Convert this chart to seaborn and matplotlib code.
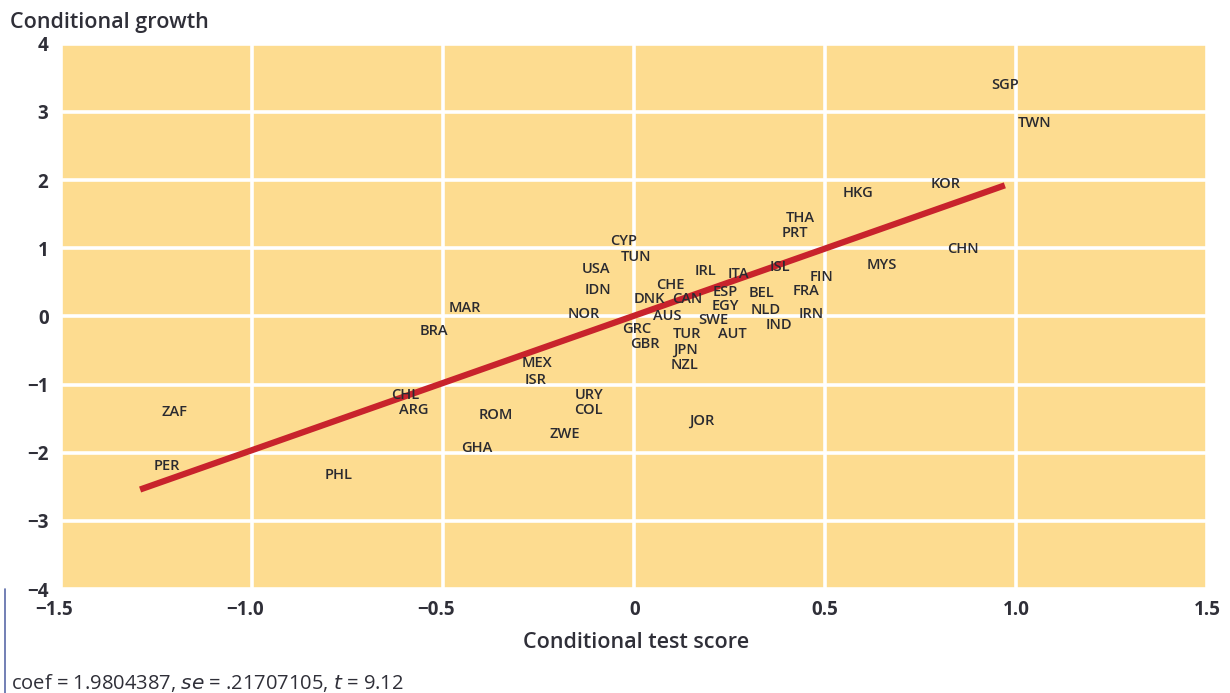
import numpy as np
import pandas as pd
import seaborn as sns
import matplotlib.pyplot as plt
import matplotlib.transforms as mtransforms
from matplotlib.lines import Line2D

# country codes and their (conditional test score, conditional growth)
countries = ['SGP', 'TWN', 'KOR', 'HKG', 'CHN', 'THA', 'PRT', 'MYS', 'ISL', 'FIN',
             'FRA', 'IRN', 'BEL', 'NLD', 'IND', 'ITA', 'IRL', 'ESP', 'EGY', 'SWE',
             'AUT', 'CHE', 'DNK', 'CAN', 'AUS', 'GRC', 'GBR', 'TUR', 'JPN', 'NZL',
             'CYP', 'TUN', 'USA', 'IDN', 'NOR', 'MAR', 'BRA', 'MEX', 'ISR', 'URY',
             'COL', 'ZWE', 'ROM', 'GHA', 'CHL', 'ARG', 'JOR', 'PHL', 'ZAF', 'PER']
test_score = [0.900, 0.970, 0.742, 0.511, 0.784, 0.362, 0.351, 0.574, 0.320, 0.425,
              0.380, 0.396, 0.265, 0.270, 0.310, 0.210, 0.123, 0.171, 0.168, 0.134,
              0.184, 0.024, -0.037, 0.066, 0.016, -0.066, -0.045, 0.066, 0.068, 0.060,
              -0.097, -0.071, -0.173, -0.163, -0.210, -0.519, -0.595, -0.330, -0.320, -0.191,
              -0.191, -0.257, -0.441, -0.488, -0.671, -0.650, 0.110, -0.844, -1.272, -1.293]
growth = [3.40, 2.84, 1.94, 1.81, 0.99, 1.44, 1.22, 0.76, 0.72, 0.57,
          0.37, 0.03, 0.34, 0.10, -0.12, 0.62, 0.66, 0.35, 0.15, -0.06,
          -0.26, 0.46, 0.26, 0.25, 0.00, -0.19, -0.41, -0.26, -0.49, -0.71,
          1.10, 0.87, 0.69, 0.38, 0.03, 0.12, -0.21, -0.69, -0.93, -1.15,
          -1.37, -1.72, -1.44, -1.93, -1.16, -1.37, -1.54, -2.32, -1.41, -2.19]

x_ticks = [-1.5, -1.0, -0.5, 0, 0.5, 1.0, 1.5]
x_labels = ['\u22121.5', '\u22121.0', '\u22120.5', '0', '0.5', '1.0', '1.5']
y_ticks = [-4, -3, -2, -1, 0, 1, 2, 3, 4]
y_labels = ['\u22124', '\u22123', '\u22122', '\u22121', '0', '1', '2', '3', '4']

df = pd.DataFrame({'code': countries, 'score': test_score, 'growth': growth})

sns.set_theme(style='darkgrid', rc={
    'axes.facecolor': '#FDDC90',
    'grid.color': 'white',
    'grid.linewidth': 2.6,
    'axes.edgecolor': 'none',
})
plt.rcParams['font.family'] = ['Open Sans', 'DejaVu Sans']

text_col = '#2f2f38'
fig = plt.figure(figsize=(12.3, 6.93), dpi=100)
ax = fig.add_axes([0.0496, 0.15, 0.932, 0.787])

sns.regplot(data=df, x='score', y='growth', ax=ax, scatter=False, ci=None,
            line_kws={'color': '#C8232C', 'linewidth': 4.5, 'solid_capstyle': 'butt'})

for _, r in df.iterrows():
    ax.annotate(r['code'], (r['score'], r['growth']), xytext=(9.5, 0),
                textcoords='offset points', ha='left', va='center',
                fontsize=10.5, fontweight='semibold', color='#2a2a30')

ax.set_xlim(-1.5, 1.5)
ax.set_ylim(-4, 4)
ax.set_xticks(x_ticks)
ax.set_yticks(y_ticks)
ax.set_xticklabels(x_labels, fontweight='bold')
ax.set_yticklabels(y_labels, fontweight='bold')
ax.tick_params(axis='x', length=0, labelsize=13.5, labelcolor=text_col, pad=8)
ax.tick_params(axis='y', length=0, labelsize=13.5, labelcolor=text_col, pad=9)
# minus sign hangs to the left of the centred number
shift = mtransforms.ScaledTranslation(-5 / 72, 0, fig.dpi_scale_trans)
for lab in ax.get_xticklabels():
    if lab.get_text().startswith('\u2212'):
        lab.set_transform(lab.get_transform() + shift)
ax.set_xlabel('')
ax.set_ylabel('')

fig.text(0.517, 0.065, 'Conditional test score', fontsize=15.5, fontweight='semibold',
         color=text_col, ha='center', va='baseline')
fig.text(0.008, 0.959, 'Conditional growth', fontsize=15.5, fontweight='semibold',
         color=text_col, ha='left', va='baseline')
fig.text(0.009, 0.0144, r'coef = 1.9804387, $se$ = .21707105, $t$ = 9.12',
         fontsize=14.5, color=text_col, ha='left', va='center')
fig.add_artist(Line2D([0.004, 0.004], [0.0, 0.15], transform=fig.transFigure,
                      color='#5a6aa8', linewidth=1.2))

plt.savefig('out.png', dpi=100)
